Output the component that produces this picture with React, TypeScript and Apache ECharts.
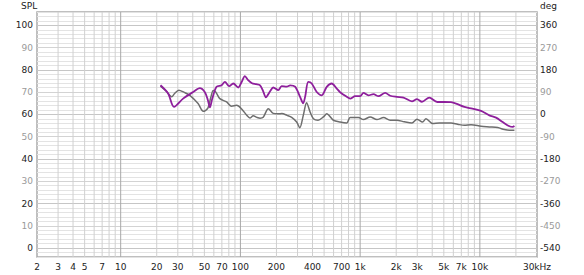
import React, { useEffect, useRef } from "react";
import * as echarts from "echarts";

// Purple trace (Hz, dB SPL)
const PURPLE_FREQ = [21.5, 24.9, 27.9, 33.2, 40.3, 45.8, 50.5, 53.5, 55.6, 58.3, 63.2, 69.6, 74.2, 80.6, 87.1, 95.9, 102.4, 109, 116, 125, 135, 146, 155, 163, 177, 188, 207, 221, 244, 260, 286, 315, 334, 347, 369, 394, 434, 478, 526, 579, 638, 680, 774, 825, 908, 1000, 1066, 1173, 1292, 1422, 1619, 1783, 2028, 2303, 2709, 2984, 3284, 3779, 4408, 5045, 5741, 6324, 7420, 8652, 10230, 12000, 13650, 15510, 17650, 18800, 19440];
const PURPLE_SPL = [73.1, 69.4, 63.4, 67.1, 70.1, 71.8, 70.0, 66.4, 63.2, 67.3, 72.4, 73.1, 74.6, 72.7, 73.9, 72.1, 74.6, 77.2, 75.4, 74.0, 73.6, 73.1, 70.4, 67.7, 70.4, 72.1, 70.9, 72.7, 72.5, 73.1, 72.5, 67.9, 65.0, 67.9, 74.6, 73.9, 70.1, 68.6, 72.4, 73.9, 71.6, 70.0, 67.9, 67.1, 68.2, 68.2, 69.7, 68.6, 69.1, 68.2, 69.7, 68.4, 67.9, 67.6, 65.9, 66.9, 65.7, 67.6, 65.6, 65.6, 65.5, 64.9, 63.4, 62.6, 61.6, 59.6, 58.6, 56.6, 54.7, 54.4, 54.8];

// Gray trace (Hz, dB SPL)
const GRAY_FREQ = [21.5, 24.1, 26.7, 28.3, 30.6, 33.7, 37.8, 44.3, 49.0, 53.5, 56.6, 59.4, 62.4, 67.3, 76.7, 84.4, 92.9, 102, 113, 120, 128, 137, 146, 155, 171, 188, 207, 222, 245, 268, 295, 313, 335, 357, 382, 407, 445, 494, 526, 598, 680, 774, 825, 968, 1066, 1213, 1380, 1568, 1783, 2028, 2334, 2709, 2984, 3320, 3548, 4030, 4584, 5741, 6516, 7420, 8440, 10230, 12000, 14090, 16030, 17650, 19440];
const GRAY_SPL = [72.7, 70.4, 67.9, 69.5, 70.9, 70.0, 68.6, 64.9, 61.4, 62.8, 67.7, 70.7, 70.0, 67.1, 65.6, 63.7, 64.1, 62.6, 59.6, 58.4, 59.4, 58.7, 58.3, 58.7, 62.6, 60.5, 60.3, 60.4, 59.6, 58.7, 56.6, 54.0, 59.6, 65.3, 61.1, 58.1, 57.4, 58.9, 60.3, 57.4, 56.6, 56.2, 58.6, 58.6, 57.7, 58.9, 57.7, 58.6, 57.4, 57.4, 56.7, 56.2, 57.9, 56.6, 58.1, 55.9, 56.2, 56.2, 55.6, 55.1, 55.4, 54.7, 54.4, 54.1, 53.2, 52.9, 52.9];

// Axis ticks / labels
const X_LABEL_FREQS = [2, 3, 4, 5, 7, 10, 20, 30, 50, 70, 100, 200, 400, 700, 1000, 2000, 3000, 5000, 7000, 10000, 30000];
const GRID_FREQS = [3, 4, 5, 6, 7, 8, 9, 10, 20, 30, 40, 50, 60, 70, 80, 90, 100, 200, 300, 400, 500, 600, 700, 800, 900, 1000, 2000, 3000, 4000, 5000, 6000, 7000, 8000, 9000, 10000, 20000];
const DECADES = [10, 100, 1000, 10000];
const X_MIN_HZ = 2;
const X_MAX_HZ = 30000;
const SPL_MIN = -4;
const SPL_MAX = 106;
const DEG_MIN = -576;
const DEG_MAX = 414;

const FONT = "DejaVu Sans";

function fmtFreq(f: number): string {
  if (f === 30000) return "30kHz";
  if (f >= 1000) return f / 1000 + "k";
  return String(f);
}

export default function App() {
  const ref = useRef<HTMLDivElement>(null);
  useEffect(() => {
    if (!ref.current) return;
    const chart = echarts.init(ref.current, undefined, { renderer: "svg" });
    const minor = "#e3e3e3";
    const mid = "#d3d3d3";
    const major = "#c6c6c6";
    const option: any = {
      animation: false,
      backgroundColor: "#ffffff",
      grid: {
        left: 37,
        top: 12,
        right: 47,
        bottom: 18,
        show: true,
        borderColor: "#aaaaaa",
        borderWidth: 1.5,
        backgroundColor: "transparent",
      },
      graphic: [
        { type: "text", left: 21, top: 1, style: { text: "SPL", fontFamily: FONT, fontSize: 9, fill: "#222" } },
        { type: "text", left: 540, top: 1, style: { text: "deg", fontFamily: FONT, fontSize: 9, fill: "#222" } },
      ],
      xAxis: {
        type: "value",
        min: Math.log10(X_MIN_HZ),
        max: Math.log10(X_MAX_HZ),
        axisLine: { show: false },
        axisTick: { show: false },
        splitLine: { show: false },
        axisLabel: {
          customValues: X_LABEL_FREQS.map((f) => Math.log10(f)),
          formatter: (v: number) => fmtFreq(Math.round(Math.pow(10, Number(v)))),
          fontFamily: FONT,
          fontSize: 9,
          color: "#222",
          margin: 5,
        },
      },
      yAxis: [
        {
          type: "value",
          min: SPL_MIN,
          max: SPL_MAX,
          interval: 2,
          axisLine: { show: false },
          axisTick: { show: false },
          splitLine: {
            show: true,
            lineStyle: { color: [minor, minor, major, minor, minor, minor, minor, mid, minor, minor], width: 1 },
          },
          axisLabel: {
            formatter: (v: number) => (Number(v) % 10 === 0 ? String(v) : ""),
            color: (v: any) => (Number(v) % 20 === 0 ? "#222" : "#9a9a9a"),
            fontFamily: FONT,
            fontSize: 9,
            margin: 4,
          },
        },
        {
          type: "value",
          position: "right",
          min: DEG_MIN,
          max: DEG_MAX,
          interval: 18,
          axisLine: { show: false },
          axisTick: { show: false },
          splitLine: { show: false },
          axisLabel: {
            formatter: (v: number) => (Number(v) % 90 === 0 ? String(v) : ""),
            color: (v: any) => (Number(v) % 180 === 0 ? "#222" : "#9a9a9a"),
            fontFamily: FONT,
            fontSize: 9,
            margin: 3,
          },
        },
      ],
      series: [
        {
          type: "custom",
          z: 1,
          silent: true,
          clip: true,
          data: GRID_FREQS.map((f) => [Math.log10(f), DECADES.includes(f) ? 1 : 0]),
          renderItem: (params: any, api: any) => {
            const x = api.coord([api.value(0), 0])[0];
            const top = params.coordSys.y;
            const h = params.coordSys.height;
            return {
              type: "line",
              shape: { x1: x, y1: top, x2: x, y2: top + h },
              style: { stroke: api.value(1) ? "#a8a8a8" : "#d0d0d0", lineWidth: 1 },
            };
          },
        },
        {
          type: "line",
          z: 3,
          symbol: "none",
          smooth: 0.3,
          data: GRAY_FREQ.map((f, i) => [Math.log10(f), GRAY_SPL[i]]),
          lineStyle: { color: "#6e6e6e", width: 1.5 },
        },
        {
          type: "line",
          z: 4,
          symbol: "none",
          smooth: 0.3,
          data: PURPLE_FREQ.map((f, i) => [Math.log10(f), PURPLE_SPL[i]]),
          lineStyle: { color: "#8e1f9c", width: 1.8 },
        },
      ],
    };
    chart.setOption(option);
    return () => chart.dispose();
  }, []);
  return (
    <div
      ref={ref}
      style={{ position: "fixed", left: 0, top: 0, width: 584, height: 275, background: "#fff" }}
    />
  );
}
